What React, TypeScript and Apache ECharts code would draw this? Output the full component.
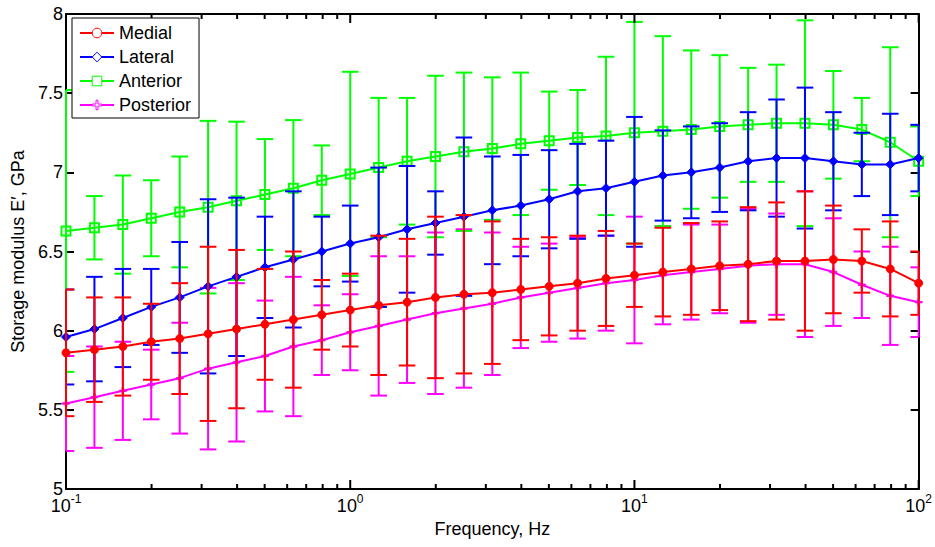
import { useEffect, useRef } from 'react';
import * as echarts from 'echarts';

const FONT = '"Liberation Sans", Arial, sans-serif';

const frequency = [
  0.1, 0.1259, 0.1585, 0.1995, 0.2512, 0.3162, 0.3981, 0.5012, 0.631, 0.7943,
  1, 1.259, 1.585, 1.995, 2.512, 3.162, 3.981, 5.012, 6.31, 7.943,
  10, 12.59, 15.85, 19.95, 25.12, 31.62, 39.81, 50.12, 63.1, 79.43, 100,
];

const medial = [5.86, 5.88, 5.9, 5.93, 5.95, 5.98, 6.01, 6.04, 6.07, 6.1, 6.13, 6.16, 6.18, 6.21, 6.23, 6.24, 6.26, 6.28, 6.3, 6.33, 6.35, 6.37, 6.39, 6.41, 6.42, 6.44, 6.44, 6.45, 6.44, 6.39, 6.3];
const medialSd = [0.4, 0.33, 0.31, 0.24, 0.35, 0.55, 0.5, 0.35, 0.43, 0.22, 0.23, 0.44, 0.4, 0.51, 0.5, 0.45, 0.32, 0.31, 0.3, 0.3, 0.2, 0.28, 0.29, 0.28, 0.36, 0.37, 0.44, 0.34, 0.2, 0.3, 0.2];

const lateral = [5.96, 6.01, 6.08, 6.15, 6.21, 6.28, 6.34, 6.4, 6.45, 6.5, 6.55, 6.59, 6.64, 6.68, 6.72, 6.76, 6.79, 6.83, 6.88, 6.9, 6.94, 6.98, 7.0, 7.03, 7.07, 7.09, 7.09, 7.07, 7.05, 7.05, 7.09];
const lateralSd = [0.3, 0.33, 0.31, 0.24, 0.35, 0.55, 0.5, 0.32, 0.43, 0.22, 0.24, 0.44, 0.4, 0.2, 0.5, 0.34, 0.32, 0.31, 0.3, 0.3, 0.41, 0.285, 0.29, 0.28, 0.31, 0.37, 0.445, 0.31, 0.2, 0.32, 0.21];

const anterior = [6.63, 6.65, 6.67, 6.71, 6.75, 6.78, 6.82, 6.86, 6.9, 6.95, 6.99, 7.03, 7.07, 7.1, 7.13, 7.15, 7.18, 7.2, 7.22, 7.23, 7.25, 7.26, 7.27, 7.29, 7.3, 7.31, 7.31, 7.3, 7.27, 7.19, 7.07];
const anteriorSd = [0.89, 0.2, 0.31, 0.24, 0.35, 0.545, 0.5, 0.35, 0.43, 0.22, 0.645, 0.44, 0.4, 0.51, 0.5, 0.45, 0.45, 0.31, 0.3, 0.5, 0.7, 0.6, 0.5, 0.45, 0.36, 0.37, 0.65, 0.34, 0.2, 0.6, 0.22];

const posterior = [5.54, 5.58, 5.62, 5.66, 5.7, 5.76, 5.8, 5.84, 5.9, 5.94, 5.99, 6.03, 6.07, 6.11, 6.14, 6.17, 6.21, 6.24, 6.27, 6.3, 6.32, 6.35, 6.37, 6.39, 6.41, 6.42, 6.42, 6.37, 6.29, 6.22, 6.18];
const posteriorSd = [0.3, 0.32, 0.31, 0.22, 0.35, 0.51, 0.5, 0.35, 0.44, 0.22, 0.24, 0.44, 0.4, 0.51, 0.5, 0.45, 0.32, 0.31, 0.32, 0.3, 0.4, 0.31, 0.3, 0.28, 0.36, 0.32, 0.46, 0.34, 0.21, 0.31, 0.22];

const majorTicks = [0.1, 1, 10, 100];
const minorTicks = [
  0.2, 0.3, 0.4, 0.5, 0.6, 0.7, 0.8, 0.9,
  2, 3, 4, 5, 6, 7, 8, 9,
  20, 30, 40, 50, 60, 70, 80, 90,
];

const groups = [
  { name: 'Posterior', mean: posterior, sd: posteriorSd, color: '#ff00ff', symbol: 'path://M4,0h2v4h4v2h-4v4h-2v-4h-4v-2h4z', size: 7, filled: true },
  { name: 'Anterior', mean: anterior, sd: anteriorSd, color: '#00ff00', symbol: 'rect', size: 9, filled: false },
  { name: 'Lateral', mean: lateral, sd: lateralSd, color: '#0000ff', symbol: 'diamond', size: 9, filled: true },
  { name: 'Medial', mean: medial, sd: medialSd, color: '#ff0000', symbol: 'circle', size: 8, filled: true },
];

const legendOrder = ['Medial', 'Lateral', 'Anterior', 'Posterior'];

function buildOption() {
  const series: any[] = [];
  groups.forEach((g, gi) => {
    series.push({
      name: g.name + ' error',
      type: 'custom',
      xAxisIndex: 0,
      yAxisIndex: 0,
      z: 2 + gi * 2,
      silent: true,
      data: frequency.map((f, i) => [f, g.mean[i], g.sd[i]]),
      encode: { x: 0, y: 1 },
      renderItem: (params: any, api: any) => {
        const x = api.value(0);
        const m = api.value(1);
        const s = api.value(2);
        const top = api.coord([x, m + s]);
        const bot = api.coord([x, m - s]);
        const cs = params.coordSys;
        const hw = 8.3;
        const xl = Math.max(top[0] - hw, cs.x);
        const xr = Math.min(top[0] + hw, cs.x + cs.width);
        const style = { stroke: g.color, lineWidth: 2, fill: null };
        return {
          type: 'group',
          children: [
            { type: 'line', shape: { x1: top[0], y1: top[1], x2: bot[0], y2: bot[1] }, style },
            { type: 'line', shape: { x1: xl, y1: top[1], x2: xr, y2: top[1] }, style },
            { type: 'line', shape: { x1: xl, y1: bot[1], x2: xr, y2: bot[1] }, style },
          ],
        };
      },
    });
    series.push({
      name: g.name,
      type: 'line',
      xAxisIndex: 0,
      yAxisIndex: 0,
      z: 3 + gi * 2,
      data: frequency.map((f, i) => [f, g.mean[i]]),
      symbol: g.symbol,
      symbolSize: g.size,
      showSymbol: true,
      lineStyle: { color: g.color, width: 2 },
      itemStyle: g.filled
        ? { color: g.color, borderColor: g.color, borderWidth: 1 }
        : { color: 'rgba(0,0,0,0)', borderColor: g.color, borderWidth: 2 },
      emphasis: { disabled: true },
    });
  });

  // log-axis ticks (major and minor) on bottom and top frame edges, placed via the x scale
  const tickSeries = (values: number[], len: number, name: string) => ({
    name,
    type: 'custom',
    xAxisIndex: 0,
    yAxisIndex: 0,
    z: 20,
    silent: true,
    data: values.map((v) => [v, 6.5]),
    encode: { x: 0, y: 1 },
    renderItem: (params: any, api: any) => {
      const cs = params.coordSys;
      const px = api.coord([api.value(0), api.value(1)])[0];
      const style = { stroke: '#000000', lineWidth: 2 };
      const yb = cs.y + cs.height;
      const yt = cs.y;
      return {
        type: 'group',
        children: [
          { type: 'line', shape: { x1: px, y1: yb, x2: px, y2: yb - len }, style },
          { type: 'line', shape: { x1: px, y1: yt, x2: px, y2: yt + len }, style },
        ],
      };
    },
  });
  series.push(tickSeries(minorTicks, 5, 'minor ticks'));
  series.push(tickSeries(majorTicks, 9, 'major ticks'));

  const colorOf = (n: string) => groups.find((g) => g.name === n)!.color;

  const axisLine = { show: true, onZero: false, lineStyle: { color: '#000', width: 2 } };

  return {
    animation: false,
    backgroundColor: '#ffffff',
    grid: { left: 66, top: 14, width: 853, height: 475, containLabel: false },
    legend: {
      left: 72,
      top: 18,
      orient: 'vertical',
      z: 30,
      data: legendOrder.map((n) => ({
        name: n,
        itemStyle: { color: '#ffffff', borderColor: colorOf(n), borderWidth: 1 },
      })),
      itemWidth: 34,
      itemHeight: 12,
      itemGap: 6,
      padding: [6, 8, 4, 7],
      borderColor: '#000',
      borderWidth: 1,
      backgroundColor: '#ffffff',
      selectedMode: false,
      textStyle: { fontSize: 18, color: '#000', fontFamily: FONT },
    },
    xAxis: [
      {
        type: 'log',
        logBase: 10,
        min: 0.1,
        max: 100,
        position: 'bottom',
        name: 'Frequency, Hz',
        nameLocation: 'middle',
        nameGap: 31,
        nameTextStyle: { fontSize: 18, color: '#000', fontFamily: FONT },
        axisLine,
        axisTick: { show: false },
        axisLabel: {
          show: true,
          margin: 4,
          formatter: (v: number) => `{b|10}{s|${Math.round(Math.log10(v))}}`,
          rich: {
            b: { fontSize: 18, lineHeight: 18, padding: [8, 0, 0, 0], color: '#000', fontFamily: FONT },
            s: { fontSize: 12, lineHeight: 12, verticalAlign: 'top', color: '#000', fontFamily: FONT },
          },
        },
        splitLine: { show: false },
      },
      {
        type: 'log',
        logBase: 10,
        min: 0.1,
        max: 100,
        position: 'top',
        axisLine,
        axisTick: { show: false },
        axisLabel: { show: false },
        splitLine: { show: false },
      },
    ],
    yAxis: [
      {
        type: 'value',
        min: 5,
        max: 8,
        interval: 0.5,
        position: 'left',
        name: 'Storage modulus E\u2032, GPa',
        nameLocation: 'middle',
        nameGap: 37,
        nameRotate: 90,
        nameTextStyle: { fontSize: 18, color: '#000', fontFamily: FONT },
        axisLine,
        axisTick: { show: true, inside: true, length: 8, lineStyle: { color: '#000', width: 2 } },
        axisLabel: { show: true, margin: 3, fontSize: 18, color: '#000', fontFamily: FONT },
        splitLine: { show: false },
      },
      {
        type: 'value',
        min: 5,
        max: 8,
        interval: 0.5,
        position: 'right',
        axisLine,
        axisTick: { show: true, inside: true, length: 8, lineStyle: { color: '#000', width: 2 } },
        axisLabel: { show: false },
        splitLine: { show: false },
      },
    ],
    series,
  };
}

export default function App() {
  const ref = useRef<HTMLDivElement>(null);
  useEffect(() => {
    if (!ref.current) return;
    const chart = echarts.init(ref.current, null, { renderer: 'svg' });
    chart.setOption(buildOption() as any);
    return () => chart.dispose();
  }, []);
  return (
    <div
      ref={ref}
      style={{ position: 'absolute', left: 0, top: 0, width: 935, height: 547, background: '#fff' }}
    />
  );
}
